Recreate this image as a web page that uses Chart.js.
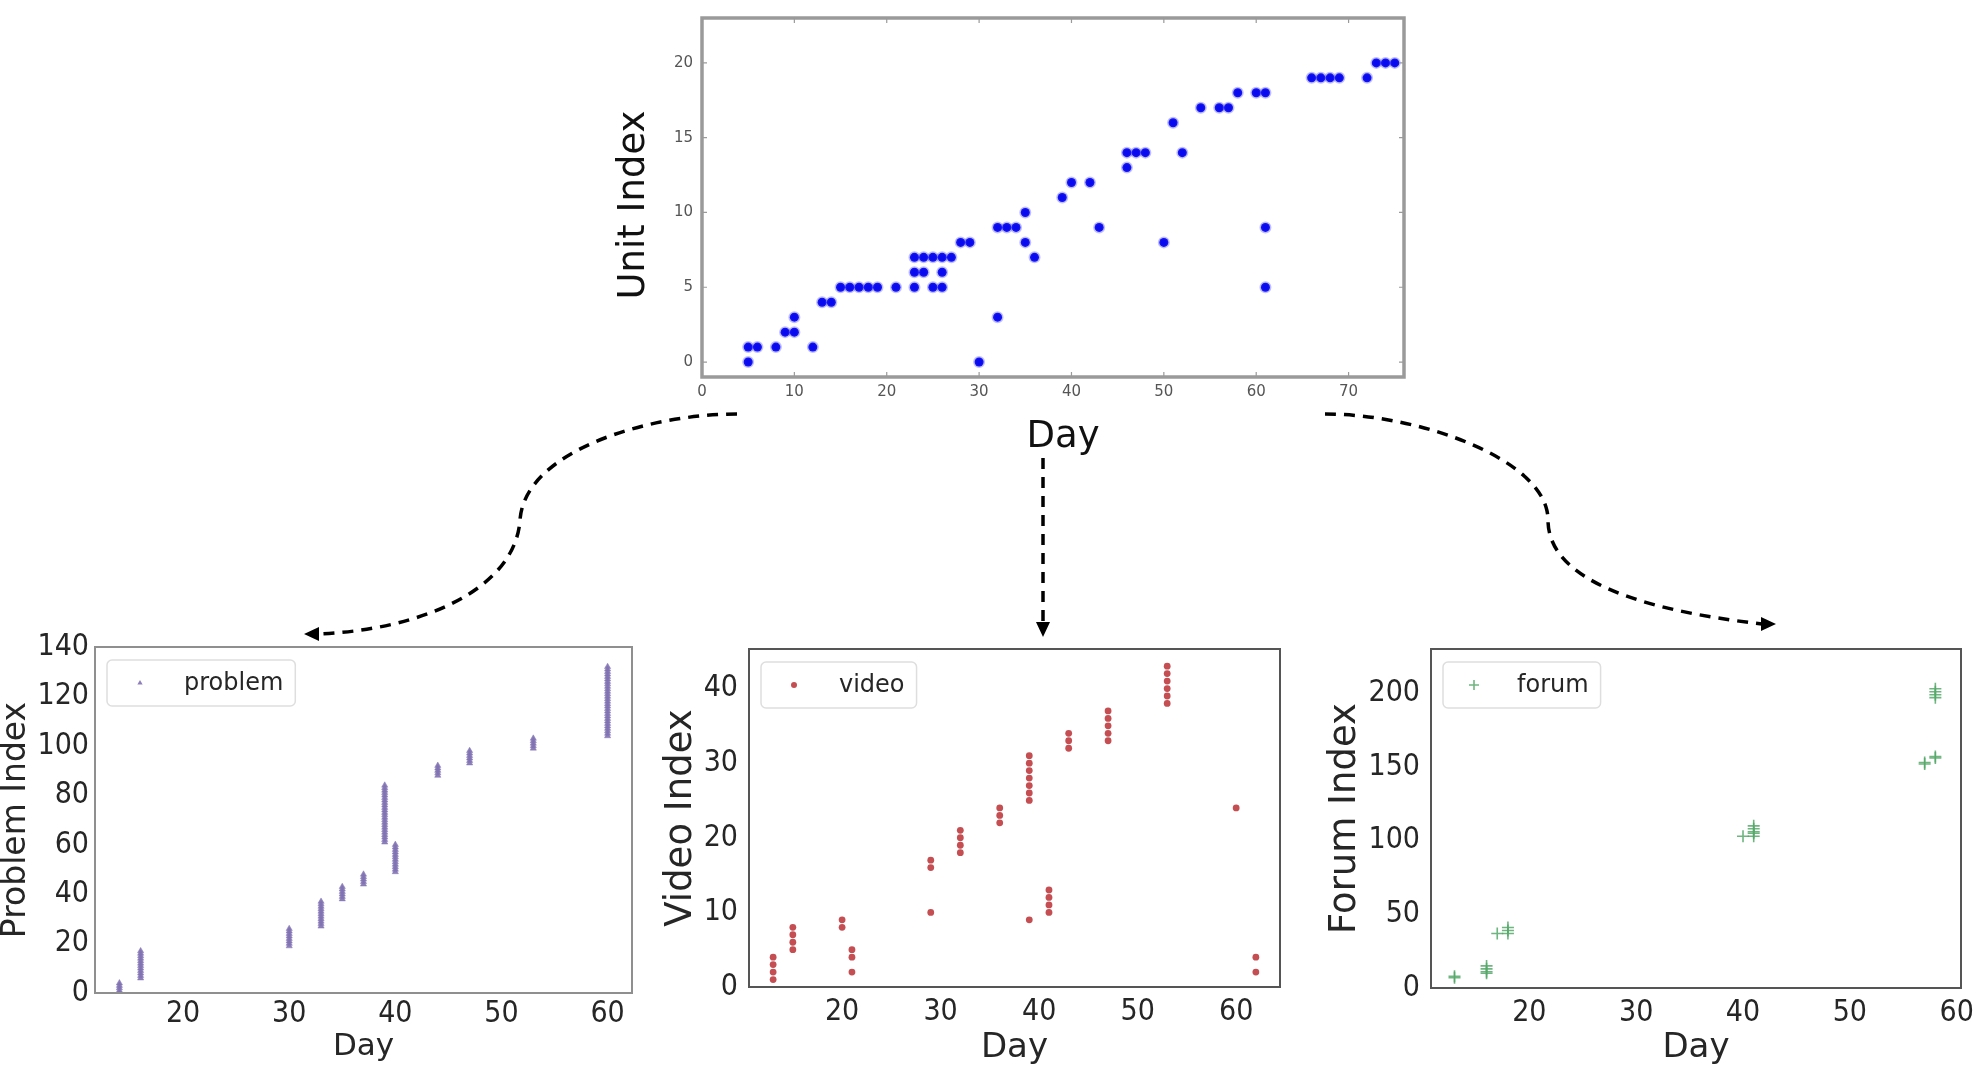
<!DOCTYPE html>
<html>
<head>
<meta charset="utf-8">
<script src="https://cdn.jsdelivr.net/npm/chart.js@4.4.1/dist/chart.umd.min.js"></script>
<style>
    html, body { margin: 0; padding: 0; background: #fff; }
    body { width: 1984px; height: 1076px; position: relative; overflow: hidden; }
    canvas { position: absolute; }
    #arrows { position: absolute; left: 0; top: 0; }
</style>
</head>
<body>
<canvas id="chart-unit" width="900" height="460" style="left:560px;top:0px"></canvas>
<canvas id="chart-problem" width="650" height="456" style="left:0px;top:620px"></canvas>
<canvas id="chart-video" width="650" height="456" style="left:650px;top:620px"></canvas>
<canvas id="chart-forum" width="684" height="456" style="left:1300px;top:620px"></canvas>

<svg id="arrows" width="1984" height="1076">
    <g fill="none" stroke="#000" stroke-width="3.5" stroke-dasharray="11 8">
        <path d="M737,414 C650,414 525,450 520,520 C515,590 420,630 318,634" />
        <path d="M1043,458 L1043,624" />
        <path d="M1325,414 C1420,414 1548,460 1548,520 C1548,580 1640,610 1762,624" />
    </g>
    <g fill="#000">
        <polygon points="304,634 319,627 319,641" />
        <polygon points="1043,637 1036,622 1050,622" />
        <polygon points="1776,624 1761,617 1761,631" />
    </g>
</svg>

<script>
// ---- top chart: unit index per day ----
const unitRows = [0, 1, 2, 3, 4, 5, 6, 7, 8, 9, 10, 11, 12, 13, 14, 16, 17, 18, 19, 20];
const unitRowDays = [
    [5, 30],
    [5, 6, 8, 12],
    [9, 10],
    [10, 32],
    [13, 14],
    [15, 16, 17, 18, 19, 21, 23, 25, 26, 61],
    [23, 24, 26],
    [23, 24, 25, 26, 27, 36],
    [28, 29, 35, 50],
    [32, 33, 34, 43, 61],
    [35],
    [39],
    [40, 42],
    [46],
    [46, 47, 48, 52],
    [51],
    [54, 56, 57],
    [58, 60, 61],
    [66, 67, 68, 69, 72],
    [73, 74, 75],
];
const unitXTicks = [0, 10, 20, 30, 40, 50, 60, 70];
const unitYTicks = [0, 5, 10, 15, 20];

// ---- problem ----
const problemDays = [14, 16, 30, 33, 35, 37, 39, 40, 44, 47, 53, 60];
const problemIdx = [
    [0, 1, 2, 3, 4],
    [6, 7, 8, 9, 10, 11, 12, 13, 14, 15, 16, 17],
    [19, 20, 21, 22, 23, 24, 25, 26],
    [27, 28, 29, 30, 31, 32, 33, 34, 35, 36, 37],
    [38, 39, 40, 41, 42, 43],
    [44, 45, 46, 47, 48],
    [61, 62, 63, 64, 65, 66, 67, 68, 69, 70, 71, 72, 73, 74, 75, 76, 77, 78, 79, 80, 81, 82, 83, 84],
    [49, 50, 51, 52, 53, 54, 55, 56, 57, 58, 59, 60],
    [88, 89, 90, 91, 92],
    [93, 94, 95, 96, 97, 98],
    [99, 100, 101, 102, 103],
    [104, 105, 106, 107, 108, 109, 110, 111, 112, 113, 114, 115, 116, 117, 118, 119, 120, 121, 122, 123, 124, 125, 126, 127, 128, 129, 130, 131, 132],
];
const problemXTicks = [20, 30, 40, 50, 60];
const problemYTicks = [0, 20, 40, 60, 80, 100, 120, 140];

// ---- video ----
const videoDays = [13, 15, 20, 21, 29, 32, 36, 39, 41, 43, 47, 53, 60, 62];
const videoIdx = [
    [1, 2, 3, 4],
    [5, 6, 7, 8],
    [8, 9],
    [2, 4, 5],
    [10, 16, 17],
    [18, 19, 20, 21],
    [22, 23, 24],
    [9, 25, 26, 27, 28, 29, 30, 31],
    [10, 11, 12, 13],
    [32, 33, 34],
    [33, 34, 35, 36, 37],
    [38, 39, 40, 41, 42, 43],
    [24],
    [2, 4],
];
const videoXTicks = [20, 30, 40, 50, 60];
const videoYTicks = [0, 10, 20, 30, 40];

// ---- forum ----
const forumDays = [13, 16, 17, 18, 40, 41, 57, 58];
const forumIdx = [
    [7, 8],
    [10, 11, 13, 15],
    [37],
    [37, 39, 41],
    [103],
    [103, 105, 106, 108, 110],
    [152, 153],
    [156, 157, 197, 199, 201, 203],
];
const forumXTicks = [20, 30, 40, 50, 60];
const forumYTicks = [0, 50, 100, 150, 200];

const TEXT = "#262626";
const TICK_FONT = "'DejaVu Sans Condensed', 'DejaVu Sans', sans-serif";
Chart.defaults.font.family = "'DejaVu Sans', sans-serif";

function toPoints(days, idx) {
    const pts = [];
    days.forEach((d, i) => idx[i].forEach((v) => pts.push({ x: d, y: v })));
    return pts;
}

function drawMarker(ctx, style, r, x, y) {
    ctx.beginPath();
    if (style === "circle") {
        ctx.arc(x, y, r, 0, Math.PI * 2);
        ctx.fill();
    } else if (style === "triangle") {
        ctx.moveTo(x, y - r);
        ctx.lineTo(x + r * 0.87, y + r * 0.5);
        ctx.lineTo(x - r * 0.87, y + r * 0.5);
        ctx.closePath();
        ctx.fill();
    } else if (style === "cross") {
        ctx.moveTo(x - r, y);
        ctx.lineTo(x + r, y);
        ctx.moveTo(x, y - r);
        ctx.lineTo(x, y + r);
        ctx.stroke();
    }
}

// box round the plot area + optional inner tick marks
const framePlugin = {
    id: "frame",
    afterDatasetsDraw(chart, args, opts) {
        const { ctx, chartArea: a } = chart;
        ctx.save();
        ctx.strokeStyle = opts.color;
        ctx.lineWidth = opts.width;
        ctx.strokeRect(a.left, a.top, a.right - a.left, a.bottom - a.top);
        if (opts.tickLength) {
            const len = opts.tickLength;
            ctx.lineWidth = 1.2;
            chart.scales.x.ticks.forEach((t) => {
                const px = chart.scales.x.getPixelForValue(t.value);
                ctx.beginPath();
                ctx.moveTo(px, a.top);
                ctx.lineTo(px, a.top + len);
                ctx.moveTo(px, a.bottom);
                ctx.lineTo(px, a.bottom - len);
                ctx.stroke();
            });
            chart.scales.y.ticks.forEach((t) => {
                const py = chart.scales.y.getPixelForValue(t.value);
                ctx.beginPath();
                ctx.moveTo(a.left, py);
                ctx.lineTo(a.left + len, py);
                ctx.moveTo(a.right, py);
                ctx.lineTo(a.right - len, py);
                ctx.stroke();
            });
        }
        ctx.restore();
    },
};

// axis titles of the top chart sit a bit off-centre in the original
const freeTitles = {
    id: "freeTitles",
    afterDraw(chart, args, opts) {
        const ctx = chart.ctx;
        ctx.save();
        ctx.fillStyle = "#111";
        ctx.font = "37px 'DejaVu Sans', sans-serif";
        ctx.textAlign = "center";
        ctx.textBaseline = "middle";
        ctx.fillText(opts.xText, opts.xAt[0], opts.xAt[1]);
        ctx.translate(opts.yAt[0], opts.yAt[1]);
        ctx.rotate(-Math.PI / 2);
        ctx.fillText(opts.yText, 0, 0);
        ctx.restore();
    },
};

// matplotlib-like legend box in the upper left corner of the plot
const boxLegend = {
    id: "boxLegend",
    afterDraw(chart, args, opts) {
        if (!opts.text) return;
        const { ctx, chartArea: a } = chart;
        const ds = chart.data.datasets[0];
        ctx.save();
        ctx.font = `24px 'DejaVu Sans', sans-serif`;
        const tw = ctx.measureText(opts.text).width;
        const x = a.left + 12;
        const y = a.top + 13;
        const h = 46;
        const w = opts.textOffset + tw + 12;
        ctx.fillStyle = "rgba(255,255,255,0.85)";
        ctx.strokeStyle = "#dedede";
        ctx.lineWidth = 1.5;
        ctx.beginPath();
        ctx.roundRect(x, y, w, h, 5);
        ctx.fill();
        ctx.stroke();
        ctx.fillStyle = ds.backgroundColor;
        ctx.strokeStyle = ds.borderColor;
        ctx.lineWidth = ds.borderWidth || 1;
        drawMarker(ctx, ds.pointStyle, opts.markerSize, x + opts.markerOffset, y + h / 2);
        ctx.fillStyle = TEXT;
        ctx.textBaseline = "middle";
        ctx.fillText(opts.text, x + opts.textOffset, y + h / 2 + 1);
        ctx.restore();
    },
};

function bottomScatter(id, cfg) {
    return new Chart(document.getElementById(id), {
        type: "scatter",
        data: { datasets: [cfg.dataset] },
        options: {
            responsive: false,
            animation: false,
            events: [],
            layout: { padding: { top: cfg.padTop, right: cfg.padRight, left: 0, bottom: 0 } },
            plugins: {
                legend: { display: false },
                tooltip: { enabled: false },
                frame: { color: cfg.frameColor, width: 2 },
                boxLegend: cfg.legend,
            },
            scales: {
                x: {
                    type: "linear",
                    min: cfg.xMin,
                    max: cfg.xMax,
                    afterBuildTicks: (s) => (s.ticks = cfg.xTicks.map((v) => ({ value: v }))),
                    afterFit: (s) => (s.height = cfg.xHeight),
                    grid: { display: false, drawTicks: false },
                    border: { display: false },
                    ticks: { color: TEXT, padding: cfg.xTickPad, font: { size: 30, family: TICK_FONT } },
                    title: {
                        display: true,
                        text: "Day",
                        color: TEXT,
                        font: { size: cfg.dayFont, lineHeight: 1 },
                        padding: { top: 0, bottom: cfg.dayPad },
                    },
                },
                y: {
                    type: "linear",
                    min: cfg.yMin,
                    max: cfg.yMax,
                    afterBuildTicks: (s) => (s.ticks = cfg.yTicks.map((v) => ({ value: v }))),
                    afterFit: (s) => (s.width = cfg.yWidth),
                    grid: { display: false, drawTicks: false },
                    border: { display: false },
                    ticks: { color: TEXT, padding: cfg.yTickPad, font: { size: 30, family: TICK_FONT } },
                    title: {
                        display: true,
                        text: cfg.yTitle,
                        color: TEXT,
                        font: { size: cfg.titleFont, lineHeight: 1 },
                        padding: { top: cfg.titlePad, bottom: 0 },
                    },
                },
            },
        },
        plugins: [framePlugin, boxLegend],
    });
}

// top chart
const unitPoints = [];
unitRows.forEach((u, i) => unitRowDays[i].forEach((d) => unitPoints.push({ x: d, y: u })));

new Chart(document.getElementById("chart-unit"), {
    type: "scatter",
    data: {
        datasets: [
            {
                data: unitPoints,
                pointStyle: "circle",
                pointRadius: 4.5,
                backgroundColor: "#0a0aee",
                borderColor: "rgba(40,40,255,0.3)",
                borderWidth: 3,
            },
        ],
    },
    options: {
        responsive: false,
        animation: false,
        events: [],
        layout: { padding: { top: 15, right: 56, left: 0, bottom: 0 } },
        plugins: {
            legend: { display: false },
            tooltip: { enabled: false },
            frame: { color: "#9a9a9a", width: 3.5, tickLength: 5 },
            freeTitles: { xText: "Day", xAt: [503, 437], yText: "Unit Index", yAt: [74, 205] },
        },
        scales: {
            x: {
                type: "linear",
                min: 0,
                max: 76,
                afterBuildTicks: (s) => (s.ticks = unitXTicks.map((v) => ({ value: v }))),
                afterFit: (s) => (s.height = 83),
                grid: { display: false, drawTicks: false },
                border: { display: false },
                ticks: { color: "#555", padding: 6, font: { size: 15 } },
            },
            y: {
                type: "linear",
                min: -1,
                max: 23,
                afterBuildTicks: (s) => (s.ticks = unitYTicks.map((v) => ({ value: v }))),
                afterFit: (s) => (s.width = 142),
                grid: { display: false, drawTicks: false },
                border: { display: false },
                ticks: { color: "#555", padding: 9, font: { size: 15 } },
            },
        },
    },
    plugins: [framePlugin, freeTitles],
});

bottomScatter("chart-problem", {
    dataset: {
        data: toPoints(problemDays, problemIdx),
        pointStyle: "triangle",
        pointRadius: 3.6,
        backgroundColor: "rgba(129,114,178,0.9)",
        borderColor: "rgba(129,114,178,0.9)",
        borderWidth: 0.5,
    },
    legend: { text: "problem", markerSize: 3, markerOffset: 33, textOffset: 77 },
    padTop: 27, padRight: 18, xHeight: 83, yWidth: 95,
    xMin: 11.7, xMax: 62.3, yMin: 0, yMax: 140,
    xTickPad: 3, yTickPad: 6,
    xTicks: problemXTicks, yTicks: problemYTicks,
    yTitle: "Problem Index", titleFont: 33, titlePad: 0,
    dayFont: 31, dayPad: 14,
    frameColor: "#8f8f8f",
});

bottomScatter("chart-video", {
    dataset: {
        data: toPoints(videoDays, videoIdx),
        pointStyle: "circle",
        pointRadius: 3.4,
        backgroundColor: "#c44e52",
        borderColor: "#c44e52",
        borderWidth: 0,
    },
    legend: { text: "video", markerSize: 3, markerOffset: 33, textOffset: 78 },
    padTop: 24, padRight: 20, xHeight: 89, yWidth: 99,
    xMin: 10.55, xMax: 64.45, yMin: 0, yMax: 45.3,
    xTickPad: 7, yTickPad: 11,
    xTicks: videoXTicks, yTicks: videoYTicks,
    yTitle: "Video Index", titleFont: 37, titlePad: 13,
    dayFont: 34, dayPad: 11,
    frameColor: "#555",
});

bottomScatter("chart-forum", {
    dataset: {
        data: toPoints(forumDays, forumIdx),
        pointStyle: "cross",
        pointRadius: 6,
        backgroundColor: "rgba(85,168,104,0.85)",
        borderColor: "rgba(85,168,104,0.85)",
        borderWidth: 1.6,
    },
    legend: { text: "forum", markerSize: 5, markerOffset: 31, textOffset: 74 },
    padTop: 24, padRight: 23, xHeight: 88, yWidth: 131,
    xMin: 10.8, xMax: 60.4, yMin: 0, yMax: 230,
    xTickPad: 7, yTickPad: 11,
    xTicks: forumXTicks, yTicks: forumYTicks,
    yTitle: "Forum Index", titleFont: 37, titlePad: 27,
    dayFont: 34, dayPad: 11,
    frameColor: "#555",
});
</script>
</body>
</html>
